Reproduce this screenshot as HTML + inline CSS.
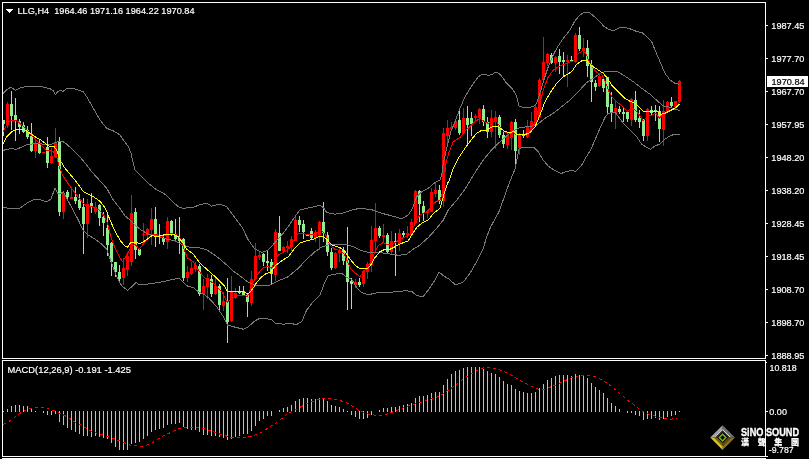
<!DOCTYPE html>
<html><head><meta charset="utf-8"><title>LLG,H4</title>
<style>html,body{margin:0;padding:0;background:#000;}body{width:809px;height:459px;overflow:hidden;}svg{display:block;}text{font-family:"Liberation Sans","Noto Sans CJK TC",sans-serif;}</style>
</head><body>
<svg width="809" height="459" viewBox="0 0 809 459">
<rect x="0" y="0" width="809" height="459" fill="#000"/>
<defs><clipPath id="cm"><rect x="3" y="3" width="762" height="355"/></clipPath><clipPath id="cd"><rect x="3" y="361" width="762" height="95"/></clipPath></defs>
<g clip-path="url(#cm)" shape-rendering="crispEdges">
<rect x="3" y="120" width="1" height="16" fill="#90ee90"/>
<rect x="2" y="120" width="3" height="4" fill="#90ee90"/>
<rect x="7" y="102" width="1" height="26" fill="#ff0000"/>
<rect x="6" y="104" width="3" height="21" fill="#ff0000"/>
<rect x="11" y="91" width="1" height="39" fill="#90ee90"/>
<rect x="10" y="104" width="3" height="12" fill="#90ee90"/>
<rect x="15" y="98" width="1" height="43" fill="#90ee90"/>
<rect x="14" y="115" width="3" height="5" fill="#90ee90"/>
<rect x="19" y="119" width="1" height="15" fill="#90ee90"/>
<rect x="18" y="121" width="3" height="6" fill="#90ee90"/>
<rect x="23" y="122" width="1" height="11" fill="#90ee90"/>
<rect x="22" y="125" width="3" height="7" fill="#90ee90"/>
<rect x="27" y="126" width="1" height="13" fill="#90ee90"/>
<rect x="26" y="130" width="3" height="7" fill="#90ee90"/>
<rect x="31" y="123" width="1" height="29" fill="#90ee90"/>
<rect x="30" y="136" width="3" height="15" fill="#90ee90"/>
<rect x="35" y="139" width="1" height="19" fill="#ff0000"/>
<rect x="34" y="144" width="3" height="7" fill="#ff0000"/>
<rect x="39" y="139" width="1" height="15" fill="#90ee90"/>
<rect x="38" y="144" width="3" height="9" fill="#90ee90"/>
<rect x="43" y="152" width="1" height="1" fill="#ff0000"/>
<rect x="42" y="152" width="3" height="1" fill="#ff0000"/>
<rect x="47" y="137" width="1" height="31" fill="#90ee90"/>
<rect x="46" y="147" width="3" height="16" fill="#90ee90"/>
<rect x="51" y="148" width="1" height="16" fill="#ff0000"/>
<rect x="50" y="156" width="3" height="7" fill="#ff0000"/>
<rect x="55" y="128" width="1" height="30" fill="#ff0000"/>
<rect x="54" y="142" width="3" height="15" fill="#ff0000"/>
<rect x="59" y="137" width="1" height="79" fill="#90ee90"/>
<rect x="58" y="142" width="3" height="70" fill="#90ee90"/>
<rect x="63" y="191" width="1" height="28" fill="#ff0000"/>
<rect x="62" y="193" width="3" height="19" fill="#ff0000"/>
<rect x="67" y="190" width="1" height="10" fill="#90ee90"/>
<rect x="66" y="192" width="3" height="5" fill="#90ee90"/>
<rect x="71" y="188" width="1" height="11" fill="#ff0000"/>
<rect x="70" y="197" width="3" height="2" fill="#ff0000"/>
<rect x="75" y="187" width="1" height="17" fill="#90ee90"/>
<rect x="74" y="197" width="3" height="4" fill="#90ee90"/>
<rect x="79" y="194" width="1" height="16" fill="#90ee90"/>
<rect x="78" y="200" width="3" height="8" fill="#90ee90"/>
<rect x="83" y="198" width="1" height="56" fill="#90ee90"/>
<rect x="82" y="207" width="3" height="17" fill="#90ee90"/>
<rect x="87" y="199" width="1" height="39" fill="#ff0000"/>
<rect x="86" y="204" width="3" height="20" fill="#ff0000"/>
<rect x="91" y="193" width="1" height="20" fill="#90ee90"/>
<rect x="90" y="203" width="3" height="4" fill="#90ee90"/>
<rect x="95" y="202" width="1" height="12" fill="#ff0000"/>
<rect x="94" y="207" width="3" height="5" fill="#ff0000"/>
<rect x="99" y="204" width="1" height="22" fill="#90ee90"/>
<rect x="98" y="205" width="3" height="13" fill="#90ee90"/>
<rect x="103" y="212" width="1" height="24" fill="#90ee90"/>
<rect x="102" y="217" width="3" height="6" fill="#90ee90"/>
<rect x="107" y="214" width="1" height="42" fill="#90ee90"/>
<rect x="106" y="228" width="3" height="17" fill="#90ee90"/>
<rect x="111" y="242" width="1" height="34" fill="#90ee90"/>
<rect x="110" y="243" width="3" height="19" fill="#90ee90"/>
<rect x="115" y="262" width="1" height="15" fill="#90ee90"/>
<rect x="114" y="262" width="3" height="10" fill="#90ee90"/>
<rect x="119" y="265" width="1" height="18" fill="#90ee90"/>
<rect x="118" y="272" width="3" height="7" fill="#90ee90"/>
<rect x="123" y="258" width="1" height="27" fill="#ff0000"/>
<rect x="122" y="268" width="3" height="10" fill="#ff0000"/>
<rect x="127" y="252" width="1" height="24" fill="#ff0000"/>
<rect x="126" y="256" width="3" height="14" fill="#ff0000"/>
<rect x="131" y="195" width="1" height="71" fill="#ff0000"/>
<rect x="130" y="213" width="3" height="49" fill="#ff0000"/>
<rect x="135" y="208" width="1" height="51" fill="#90ee90"/>
<rect x="134" y="212" width="3" height="38" fill="#90ee90"/>
<rect x="139" y="248" width="1" height="8" fill="#90ee90"/>
<rect x="138" y="249" width="3" height="6" fill="#90ee90"/>
<rect x="143" y="223" width="1" height="20" fill="#ff0000"/>
<rect x="142" y="234" width="3" height="1" fill="#ff0000"/>
<rect x="147" y="228" width="1" height="12" fill="#ff0000"/>
<rect x="146" y="229" width="3" height="6" fill="#ff0000"/>
<rect x="151" y="208" width="1" height="37" fill="#ff0000"/>
<rect x="150" y="219" width="3" height="11" fill="#ff0000"/>
<rect x="155" y="207" width="1" height="40" fill="#90ee90"/>
<rect x="154" y="219" width="3" height="16" fill="#90ee90"/>
<rect x="159" y="224" width="1" height="20" fill="#90ee90"/>
<rect x="158" y="235" width="3" height="2" fill="#90ee90"/>
<rect x="163" y="236" width="1" height="9" fill="#90ee90"/>
<rect x="162" y="238" width="3" height="4" fill="#90ee90"/>
<rect x="167" y="217" width="1" height="32" fill="#ff0000"/>
<rect x="166" y="221" width="3" height="21" fill="#ff0000"/>
<rect x="171" y="220" width="1" height="16" fill="#90ee90"/>
<rect x="170" y="221" width="3" height="13" fill="#90ee90"/>
<rect x="175" y="219" width="1" height="21" fill="#90ee90"/>
<rect x="174" y="235" width="3" height="4" fill="#90ee90"/>
<rect x="179" y="217" width="1" height="37" fill="#90ee90"/>
<rect x="178" y="238" width="3" height="3" fill="#90ee90"/>
<rect x="183" y="238" width="1" height="43" fill="#90ee90"/>
<rect x="182" y="239" width="3" height="39" fill="#90ee90"/>
<rect x="187" y="266" width="1" height="16" fill="#ff0000"/>
<rect x="186" y="272" width="3" height="6" fill="#ff0000"/>
<rect x="191" y="262" width="1" height="13" fill="#ff0000"/>
<rect x="190" y="268" width="3" height="6" fill="#ff0000"/>
<rect x="195" y="262" width="1" height="10" fill="#ff0000"/>
<rect x="194" y="265" width="3" height="4" fill="#ff0000"/>
<rect x="199" y="264" width="1" height="32" fill="#90ee90"/>
<rect x="198" y="266" width="3" height="28" fill="#90ee90"/>
<rect x="203" y="279" width="1" height="31" fill="#ff0000"/>
<rect x="202" y="286" width="3" height="8" fill="#ff0000"/>
<rect x="207" y="274" width="1" height="25" fill="#ff0000"/>
<rect x="206" y="278" width="3" height="9" fill="#ff0000"/>
<rect x="211" y="275" width="1" height="22" fill="#90ee90"/>
<rect x="210" y="279" width="3" height="15" fill="#90ee90"/>
<rect x="215" y="277" width="1" height="18" fill="#ff0000"/>
<rect x="214" y="286" width="3" height="8" fill="#ff0000"/>
<rect x="219" y="284" width="1" height="26" fill="#90ee90"/>
<rect x="218" y="286" width="3" height="19" fill="#90ee90"/>
<rect x="223" y="292" width="1" height="19" fill="#ff0000"/>
<rect x="222" y="301" width="3" height="5" fill="#ff0000"/>
<rect x="227" y="278" width="1" height="65" fill="#90ee90"/>
<rect x="226" y="302" width="3" height="20" fill="#90ee90"/>
<rect x="231" y="276" width="1" height="46" fill="#ff0000"/>
<rect x="230" y="292" width="3" height="29" fill="#ff0000"/>
<rect x="235" y="288" width="1" height="11" fill="#ff0000"/>
<rect x="234" y="293" width="3" height="5" fill="#ff0000"/>
<rect x="239" y="286" width="1" height="8" fill="#90ee90"/>
<rect x="238" y="291" width="3" height="2" fill="#90ee90"/>
<rect x="243" y="286" width="1" height="10" fill="#90ee90"/>
<rect x="242" y="291" width="3" height="4" fill="#90ee90"/>
<rect x="247" y="293" width="1" height="24" fill="#90ee90"/>
<rect x="246" y="295" width="3" height="7" fill="#90ee90"/>
<rect x="251" y="271" width="1" height="35" fill="#ff0000"/>
<rect x="250" y="279" width="3" height="24" fill="#ff0000"/>
<rect x="255" y="243" width="1" height="37" fill="#ff0000"/>
<rect x="254" y="256" width="3" height="23" fill="#ff0000"/>
<rect x="259" y="251" width="1" height="9" fill="#ff0000"/>
<rect x="258" y="255" width="3" height="2" fill="#ff0000"/>
<rect x="263" y="253" width="1" height="13" fill="#90ee90"/>
<rect x="262" y="254" width="3" height="8" fill="#90ee90"/>
<rect x="267" y="250" width="1" height="21" fill="#90ee90"/>
<rect x="266" y="261" width="3" height="2" fill="#90ee90"/>
<rect x="271" y="259" width="1" height="26" fill="#90ee90"/>
<rect x="270" y="262" width="3" height="12" fill="#90ee90"/>
<rect x="275" y="229" width="1" height="52" fill="#ff0000"/>
<rect x="274" y="232" width="3" height="43" fill="#ff0000"/>
<rect x="279" y="216" width="1" height="35" fill="#90ee90"/>
<rect x="278" y="233" width="3" height="18" fill="#90ee90"/>
<rect x="283" y="246" width="1" height="6" fill="#ff0000"/>
<rect x="282" y="247" width="3" height="4" fill="#ff0000"/>
<rect x="287" y="241" width="1" height="12" fill="#ff0000"/>
<rect x="286" y="246" width="3" height="2" fill="#ff0000"/>
<rect x="291" y="236" width="1" height="15" fill="#ff0000"/>
<rect x="290" y="239" width="3" height="8" fill="#ff0000"/>
<rect x="295" y="216" width="1" height="25" fill="#ff0000"/>
<rect x="294" y="220" width="3" height="21" fill="#ff0000"/>
<rect x="299" y="216" width="1" height="16" fill="#90ee90"/>
<rect x="298" y="220" width="3" height="5" fill="#90ee90"/>
<rect x="303" y="220" width="1" height="19" fill="#90ee90"/>
<rect x="302" y="224" width="3" height="8" fill="#90ee90"/>
<rect x="307" y="234" width="1" height="2" fill="#90ee90"/>
<rect x="306" y="234" width="3" height="2" fill="#90ee90"/>
<rect x="311" y="228" width="1" height="11" fill="#90ee90"/>
<rect x="310" y="231" width="3" height="7" fill="#90ee90"/>
<rect x="315" y="230" width="1" height="12" fill="#ff0000"/>
<rect x="314" y="232" width="3" height="6" fill="#ff0000"/>
<rect x="319" y="221" width="1" height="29" fill="#ff0000"/>
<rect x="318" y="222" width="3" height="13" fill="#ff0000"/>
<rect x="323" y="202" width="1" height="40" fill="#90ee90"/>
<rect x="322" y="222" width="3" height="11" fill="#90ee90"/>
<rect x="327" y="232" width="1" height="24" fill="#90ee90"/>
<rect x="326" y="235" width="3" height="17" fill="#90ee90"/>
<rect x="331" y="248" width="1" height="22" fill="#90ee90"/>
<rect x="330" y="252" width="3" height="16" fill="#90ee90"/>
<rect x="335" y="252" width="1" height="17" fill="#ff0000"/>
<rect x="334" y="253" width="3" height="15" fill="#ff0000"/>
<rect x="339" y="248" width="1" height="14" fill="#ff0000"/>
<rect x="338" y="250" width="3" height="3" fill="#ff0000"/>
<rect x="343" y="247" width="1" height="18" fill="#90ee90"/>
<rect x="342" y="250" width="3" height="11" fill="#90ee90"/>
<rect x="347" y="227" width="1" height="83" fill="#90ee90"/>
<rect x="346" y="260" width="3" height="22" fill="#90ee90"/>
<rect x="351" y="278" width="1" height="31" fill="#90ee90"/>
<rect x="350" y="281" width="3" height="3" fill="#90ee90"/>
<rect x="355" y="279" width="1" height="9" fill="#ff0000"/>
<rect x="354" y="282" width="3" height="3" fill="#ff0000"/>
<rect x="359" y="278" width="1" height="9" fill="#90ee90"/>
<rect x="358" y="282" width="3" height="3" fill="#90ee90"/>
<rect x="363" y="270" width="1" height="17" fill="#ff0000"/>
<rect x="362" y="271" width="3" height="13" fill="#ff0000"/>
<rect x="367" y="262" width="1" height="17" fill="#ff0000"/>
<rect x="366" y="264" width="3" height="8" fill="#ff0000"/>
<rect x="371" y="226" width="1" height="46" fill="#ff0000"/>
<rect x="370" y="240" width="3" height="25" fill="#ff0000"/>
<rect x="375" y="203" width="1" height="49" fill="#ff0000"/>
<rect x="374" y="228" width="3" height="13" fill="#ff0000"/>
<rect x="379" y="226" width="1" height="12" fill="#90ee90"/>
<rect x="378" y="228" width="3" height="8" fill="#90ee90"/>
<rect x="383" y="224" width="1" height="19" fill="#ff0000"/>
<rect x="382" y="235" width="3" height="2" fill="#ff0000"/>
<rect x="387" y="233" width="1" height="20" fill="#90ee90"/>
<rect x="386" y="235" width="3" height="17" fill="#90ee90"/>
<rect x="391" y="231" width="1" height="23" fill="#ff0000"/>
<rect x="390" y="241" width="3" height="11" fill="#ff0000"/>
<rect x="395" y="233" width="1" height="43" fill="#90ee90"/>
<rect x="394" y="241" width="3" height="1" fill="#90ee90"/>
<rect x="399" y="229" width="1" height="22" fill="#ff0000"/>
<rect x="398" y="233" width="3" height="11" fill="#ff0000"/>
<rect x="403" y="231" width="1" height="6" fill="#90ee90"/>
<rect x="402" y="233" width="3" height="2" fill="#90ee90"/>
<rect x="407" y="226" width="1" height="12" fill="#ff0000"/>
<rect x="406" y="233" width="3" height="2" fill="#ff0000"/>
<rect x="411" y="219" width="1" height="16" fill="#ff0000"/>
<rect x="410" y="222" width="3" height="13" fill="#ff0000"/>
<rect x="415" y="190" width="1" height="34" fill="#ff0000"/>
<rect x="414" y="191" width="3" height="32" fill="#ff0000"/>
<rect x="419" y="190" width="1" height="32" fill="#90ee90"/>
<rect x="418" y="191" width="3" height="13" fill="#90ee90"/>
<rect x="423" y="201" width="1" height="20" fill="#90ee90"/>
<rect x="422" y="206" width="3" height="7" fill="#90ee90"/>
<rect x="427" y="210" width="1" height="8" fill="#ff0000"/>
<rect x="426" y="211" width="3" height="2" fill="#ff0000"/>
<rect x="431" y="188" width="1" height="24" fill="#ff0000"/>
<rect x="430" y="192" width="3" height="20" fill="#ff0000"/>
<rect x="435" y="182" width="1" height="15" fill="#ff0000"/>
<rect x="434" y="190" width="3" height="4" fill="#ff0000"/>
<rect x="439" y="185" width="1" height="19" fill="#90ee90"/>
<rect x="438" y="190" width="3" height="11" fill="#90ee90"/>
<rect x="443" y="128" width="1" height="79" fill="#ff0000"/>
<rect x="442" y="133" width="3" height="68" fill="#ff0000"/>
<rect x="447" y="120" width="1" height="23" fill="#ff0000"/>
<rect x="446" y="128" width="3" height="8" fill="#ff0000"/>
<rect x="451" y="122" width="1" height="9" fill="#ff0000"/>
<rect x="450" y="127" width="3" height="2" fill="#ff0000"/>
<rect x="455" y="119" width="1" height="11" fill="#ff0000"/>
<rect x="454" y="121" width="3" height="7" fill="#ff0000"/>
<rect x="459" y="111" width="1" height="24" fill="#90ee90"/>
<rect x="458" y="120" width="3" height="13" fill="#90ee90"/>
<rect x="463" y="108" width="1" height="26" fill="#ff0000"/>
<rect x="462" y="118" width="3" height="15" fill="#ff0000"/>
<rect x="467" y="106" width="1" height="38" fill="#90ee90"/>
<rect x="466" y="118" width="3" height="7" fill="#90ee90"/>
<rect x="471" y="112" width="1" height="24" fill="#90ee90"/>
<rect x="470" y="118" width="3" height="6" fill="#90ee90"/>
<rect x="475" y="114" width="1" height="7" fill="#ff0000"/>
<rect x="474" y="116" width="3" height="2" fill="#ff0000"/>
<rect x="479" y="108" width="1" height="16" fill="#ff0000"/>
<rect x="478" y="109" width="3" height="9" fill="#ff0000"/>
<rect x="483" y="105" width="1" height="21" fill="#90ee90"/>
<rect x="482" y="109" width="3" height="13" fill="#90ee90"/>
<rect x="487" y="117" width="1" height="21" fill="#90ee90"/>
<rect x="486" y="122" width="3" height="10" fill="#90ee90"/>
<rect x="491" y="110" width="1" height="27" fill="#ff0000"/>
<rect x="490" y="118" width="3" height="14" fill="#ff0000"/>
<rect x="495" y="111" width="1" height="38" fill="#ff0000"/>
<rect x="494" y="117" width="3" height="4" fill="#ff0000"/>
<rect x="499" y="115" width="1" height="23" fill="#90ee90"/>
<rect x="498" y="117" width="3" height="18" fill="#90ee90"/>
<rect x="503" y="132" width="1" height="16" fill="#90ee90"/>
<rect x="502" y="135" width="3" height="9" fill="#90ee90"/>
<rect x="507" y="132" width="1" height="17" fill="#ff0000"/>
<rect x="506" y="135" width="3" height="10" fill="#ff0000"/>
<rect x="511" y="121" width="1" height="29" fill="#ff0000"/>
<rect x="510" y="122" width="3" height="16" fill="#ff0000"/>
<rect x="515" y="119" width="1" height="47" fill="#90ee90"/>
<rect x="514" y="122" width="3" height="29" fill="#90ee90"/>
<rect x="519" y="133" width="1" height="22" fill="#ff0000"/>
<rect x="518" y="135" width="3" height="13" fill="#ff0000"/>
<rect x="523" y="130" width="1" height="8" fill="#90ee90"/>
<rect x="522" y="134" width="3" height="2" fill="#90ee90"/>
<rect x="527" y="120" width="1" height="18" fill="#ff0000"/>
<rect x="526" y="127" width="3" height="10" fill="#ff0000"/>
<rect x="531" y="112" width="1" height="19" fill="#ff0000"/>
<rect x="530" y="121" width="3" height="9" fill="#ff0000"/>
<rect x="535" y="105" width="1" height="21" fill="#ff0000"/>
<rect x="534" y="107" width="3" height="18" fill="#ff0000"/>
<rect x="539" y="78" width="1" height="40" fill="#ff0000"/>
<rect x="538" y="80" width="3" height="37" fill="#ff0000"/>
<rect x="543" y="37" width="1" height="44" fill="#ff0000"/>
<rect x="542" y="62" width="3" height="18" fill="#ff0000"/>
<rect x="547" y="53" width="1" height="13" fill="#ff0000"/>
<rect x="546" y="54" width="3" height="9" fill="#ff0000"/>
<rect x="551" y="53" width="1" height="11" fill="#90ee90"/>
<rect x="550" y="55" width="3" height="8" fill="#90ee90"/>
<rect x="555" y="56" width="1" height="16" fill="#ff0000"/>
<rect x="554" y="57" width="3" height="6" fill="#ff0000"/>
<rect x="559" y="49" width="1" height="25" fill="#90ee90"/>
<rect x="558" y="56" width="3" height="6" fill="#90ee90"/>
<rect x="563" y="52" width="1" height="24" fill="#90ee90"/>
<rect x="562" y="60" width="3" height="2" fill="#90ee90"/>
<rect x="567" y="55" width="1" height="32" fill="#ff0000"/>
<rect x="566" y="60" width="3" height="2" fill="#ff0000"/>
<rect x="571" y="56" width="1" height="6" fill="#90ee90"/>
<rect x="570" y="60" width="3" height="2" fill="#90ee90"/>
<rect x="575" y="33" width="1" height="30" fill="#ff0000"/>
<rect x="574" y="35" width="3" height="27" fill="#ff0000"/>
<rect x="579" y="27" width="1" height="24" fill="#90ee90"/>
<rect x="578" y="35" width="3" height="14" fill="#90ee90"/>
<rect x="583" y="38" width="1" height="19" fill="#ff0000"/>
<rect x="582" y="48" width="3" height="3" fill="#ff0000"/>
<rect x="587" y="40" width="1" height="37" fill="#90ee90"/>
<rect x="586" y="48" width="3" height="18" fill="#90ee90"/>
<rect x="591" y="60" width="1" height="42" fill="#90ee90"/>
<rect x="590" y="65" width="3" height="17" fill="#90ee90"/>
<rect x="595" y="80" width="1" height="11" fill="#90ee90"/>
<rect x="594" y="83" width="3" height="4" fill="#90ee90"/>
<rect x="599" y="73" width="1" height="14" fill="#ff0000"/>
<rect x="598" y="76" width="3" height="10" fill="#ff0000"/>
<rect x="603" y="77" width="1" height="15" fill="#90ee90"/>
<rect x="602" y="79" width="3" height="9" fill="#90ee90"/>
<rect x="607" y="77" width="1" height="37" fill="#90ee90"/>
<rect x="606" y="77" width="3" height="30" fill="#90ee90"/>
<rect x="611" y="92" width="1" height="30" fill="#90ee90"/>
<rect x="610" y="104" width="3" height="8" fill="#90ee90"/>
<rect x="615" y="100" width="1" height="29" fill="#ff0000"/>
<rect x="614" y="108" width="3" height="5" fill="#ff0000"/>
<rect x="619" y="106" width="1" height="8" fill="#90ee90"/>
<rect x="618" y="109" width="3" height="3" fill="#90ee90"/>
<rect x="623" y="108" width="1" height="14" fill="#90ee90"/>
<rect x="622" y="112" width="3" height="2" fill="#90ee90"/>
<rect x="627" y="112" width="1" height="10" fill="#90ee90"/>
<rect x="626" y="112" width="3" height="7" fill="#90ee90"/>
<rect x="631" y="98" width="1" height="28" fill="#ff0000"/>
<rect x="630" y="99" width="3" height="21" fill="#ff0000"/>
<rect x="635" y="91" width="1" height="31" fill="#90ee90"/>
<rect x="634" y="100" width="3" height="20" fill="#90ee90"/>
<rect x="639" y="110" width="1" height="18" fill="#90ee90"/>
<rect x="638" y="118" width="3" height="4" fill="#90ee90"/>
<rect x="643" y="119" width="1" height="22" fill="#90ee90"/>
<rect x="642" y="120" width="3" height="16" fill="#90ee90"/>
<rect x="647" y="108" width="1" height="33" fill="#ff0000"/>
<rect x="646" y="109" width="3" height="27" fill="#ff0000"/>
<rect x="651" y="106" width="1" height="9" fill="#90ee90"/>
<rect x="650" y="110" width="3" height="3" fill="#90ee90"/>
<rect x="655" y="105" width="1" height="16" fill="#90ee90"/>
<rect x="654" y="110" width="3" height="2" fill="#90ee90"/>
<rect x="659" y="106" width="1" height="36" fill="#90ee90"/>
<rect x="658" y="111" width="3" height="18" fill="#90ee90"/>
<rect x="663" y="100" width="1" height="46" fill="#ff0000"/>
<rect x="662" y="111" width="3" height="19" fill="#ff0000"/>
<rect x="667" y="101" width="1" height="11" fill="#ff0000"/>
<rect x="666" y="102" width="3" height="10" fill="#ff0000"/>
<rect x="671" y="97" width="1" height="11" fill="#90ee90"/>
<rect x="670" y="102" width="3" height="4" fill="#90ee90"/>
<rect x="675" y="101" width="1" height="9" fill="#ff0000"/>
<rect x="674" y="101" width="3" height="6" fill="#ff0000"/>
<rect x="679" y="80" width="1" height="23" fill="#ff0000"/>
<rect x="678" y="81" width="3" height="21" fill="#ff0000"/>
</g>
<g clip-path="url(#cm)" fill="none" stroke-linejoin="round" stroke-linecap="round" shape-rendering="crispEdges">
<path d="M3.3 93.3 L7.5 89.2 L10.8 87.2 L15.3 90.3 L20.0 88.0 L25.0 86.7 L33.3 86.2 L41.7 86.7 L50.0 88.7 L53.3 90.8 L55.5 94.7 L57.5 92.0 L60.0 90.5 L63.3 91.3 L66.7 88.7 L71.7 88.0 L76.7 89.7 L83.3 91.7 L86.7 96.7 L93.3 108.3 L100.0 120.0 L106.7 128.3 L113.3 130.8 L120.0 135.0 L123.3 140.0 L128.3 146.7 L131.0 153.0 L132.5 160.0 L135.0 170.0 L140.0 175.0 L148.3 183.3 L156.7 190.0 L165.0 194.2 L171.7 200.8 L178.3 206.7 L183.3 208.3 L193.3 207.2 L200.0 204.7 L206.7 203.3 L211.7 206.2 L219.2 204.2 L226.7 206.7 L231.7 213.3 L235.0 218.0 L241.7 226.7 L248.3 240.0 L255.0 249.2 L261.7 252.5 L268.3 250.0 L275.0 242.5 L281.7 235.0 L288.3 226.7 L295.0 216.7 L300.0 210.0 L306.7 208.3 L315.0 206.7 L320.0 205.0 L323.3 207.5 L326.7 212.5 L335.0 214.2 L343.3 213.0 L351.7 210.0 L360.0 208.3 L371.7 209.7 L381.7 213.3 L391.7 215.8 L401.7 218.7 L408.3 215.0 L412.5 208.3 L416.7 196.7 L421.7 191.7 L428.3 188.3 L435.0 182.5 L440.0 180.0 L441.7 175.0 L443.3 163.3 L446.7 148.3 L450.8 131.7 L455.0 121.7 L460.0 108.3 L465.0 96.7 L471.7 85.8 L478.3 76.7 L482.5 74.2 L488.3 75.3 L491.7 74.7 L495.8 72.0 L500.0 74.2 L506.7 83.3 L513.3 90.0 L516.7 96.7 L519.2 106.7 L526.7 107.5 L533.3 106.7 L536.7 103.3 L540.0 93.3 L543.3 81.7 L548.3 66.7 L553.3 55.0 L556.7 48.3 L563.3 38.3 L570.0 30.0 L575.0 20.8 L580.0 15.0 L584.2 12.2 L589.2 12.2 L593.3 15.8 L598.3 20.0 L603.3 25.8 L608.3 29.2 L613.3 30.8 L618.3 28.3 L623.3 27.0 L630.0 28.8 L636.7 31.5 L642.5 33.0 L646.7 36.7 L651.7 41.7 L655.0 50.0 L660.0 61.7 L665.0 73.3 L670.0 80.0 L675.0 83.3 L678.3 84.2" stroke="#787878" stroke-width="1"/>
<path d="M3.3 150.3 L10.0 148.7 L16.7 149.2 L21.7 147.0 L28.3 144.2 L38.3 143.7 L50.0 144.7 L56.7 142.0 L62.5 141.3 L66.7 144.2 L75.0 151.7 L83.3 160.8 L91.7 171.7 L100.0 180.8 L106.7 188.3 L113.3 200.0 L120.0 208.5 L125.0 215.8 L130.0 220.0 L134.0 224.0 L140.0 229.2 L148.3 234.2 L156.7 235.8 L166.7 239.2 L175.0 240.8 L183.3 245.0 L190.0 247.2 L200.0 248.0 L206.7 249.7 L213.3 254.2 L220.0 259.2 L226.7 265.0 L231.7 270.0 L240.0 275.8 L248.3 282.5 L256.7 285.8 L270.0 285.0 L278.3 280.8 L288.3 276.7 L298.3 268.3 L306.7 259.2 L315.0 251.7 L321.7 247.0 L328.3 245.0 L338.3 244.2 L348.3 245.0 L353.3 246.7 L360.0 250.0 L368.3 252.5 L378.3 252.5 L388.3 253.7 L398.3 255.3 L406.7 254.2 L413.3 249.2 L420.0 245.0 L428.3 237.5 L436.7 228.3 L443.3 220.0 L448.3 210.0 L458.3 198.3 L466.7 186.7 L470.0 180.8 L476.7 170.0 L483.3 160.0 L490.0 151.7 L498.3 143.3 L506.7 135.8 L513.3 130.8 L520.0 127.5 L528.3 126.7 L536.7 125.0 L545.0 118.3 L553.3 113.3 L561.7 106.7 L570.0 100.0 L578.3 91.7 L586.7 82.5 L593.3 78.3 L600.0 73.3 L606.7 71.3 L616.7 71.3 L623.3 75.0 L633.3 81.7 L641.7 88.3 L650.0 94.2 L658.3 101.7 L663.3 105.8 L670.0 107.2 L675.0 109.2 L679.2 110.3" stroke="#787878" stroke-width="1"/>
<path d="M3.3 207.0 L10.0 208.8 L20.0 208.0 L26.7 203.3 L33.3 199.7 L40.0 199.7 L46.7 201.7 L50.8 199.2 L55.0 188.3 L57.5 193.0 L60.0 194.0 L63.3 191.7 L66.7 198.3 L71.7 207.5 L78.3 220.0 L83.3 230.8 L88.3 235.0 L95.0 239.2 L101.7 244.2 L106.7 249.0 L111.7 263.3 L116.7 276.7 L121.7 285.8 L127.5 290.3 L131.7 286.7 L135.8 282.5 L140.0 285.0 L150.0 283.7 L163.3 281.7 L173.3 279.2 L179.2 278.3 L181.7 280.8 L186.7 285.8 L193.3 287.5 L198.3 291.7 L205.0 295.0 L208.3 297.5 L216.7 306.7 L223.3 316.7 L227.5 325.0 L233.3 326.7 L243.3 329.2 L248.3 326.7 L255.0 320.8 L260.0 318.3 L266.7 318.7 L271.7 320.0 L275.0 323.0 L283.3 324.2 L291.7 323.3 L295.8 325.0 L301.7 321.7 L306.7 310.0 L313.3 301.7 L320.0 295.0 L325.0 281.7 L328.3 275.8 L334.0 274.2 L341.7 273.3 L346.7 277.5 L351.7 279.2 L356.7 287.5 L361.7 292.5 L368.3 294.7 L378.3 292.5 L393.3 292.0 L405.0 290.8 L411.7 291.3 L416.7 295.8 L423.3 296.3 L428.3 290.0 L435.0 280.0 L439.2 272.0 L443.3 275.8 L449.2 279.2 L455.5 285.0 L463.3 282.0 L470.0 273.3 L476.7 261.7 L483.3 248.3 L486.7 236.7 L490.8 226.7 L495.0 219.0 L499.1 211.4 L504.4 196.7 L509.6 182.0 L514.9 169.4 L517.0 158.9 L519.1 148.8 L522.2 147.4 L533.8 147.4 L538.0 151.6 L543.2 160.0 L548.5 166.3 L554.8 170.5 L561.1 173.6 L566.3 171.5 L571.6 170.5 L575.8 171.5 L581.0 166.3 L586.3 156.8 L590.5 150.3 L595.0 140.0 L600.0 128.3 L605.0 117.5 L608.3 113.3 L615.0 112.0 L618.3 116.7 L623.3 123.3 L630.0 130.0 L636.7 136.7 L641.7 144.2 L646.7 147.5 L650.8 149.2 L655.0 145.8 L660.0 144.2 L665.0 139.2 L670.0 135.8 L675.0 134.2 L679.2 134.2" stroke="#787878" stroke-width="1"/>
</g>
<g clip-path="url(#cm)" fill="none" stroke-linejoin="round" stroke-linecap="round" shape-rendering="crispEdges">
<path d="M3.3 131.7 L6.7 125.0 L10.0 120.8 L15.0 120.0 L18.3 121.7 L21.7 125.0 L26.7 130.0 L31.7 135.8 L36.7 140.8 L41.7 145.8 L46.7 150.8 L50.0 150.5 L53.3 151.7 L56.7 156.7 L59.2 166.7 L62.5 175.0 L66.7 181.7 L71.7 188.3 L76.7 195.0 L81.7 201.5 L85.0 205.0 L90.0 206.3 L95.0 207.5 L100.0 210.8 L104.2 215.8 L107.5 223.3 L110.8 236.7 L115.0 248.3 L119.2 256.7 L122.5 261.7 L126.7 255.0 L130.8 247.5 L135.0 244.2 L139.2 249.2 L143.3 244.2 L147.5 238.3 L151.7 234.2 L157.5 235.0 L161.7 237.5 L165.8 235.0 L171.7 233.7 L176.7 235.0 L180.8 239.2 L184.2 250.0 L187.5 258.3 L193.3 261.7 L198.3 270.0 L203.3 276.7 L208.3 280.0 L213.3 283.0 L216.7 286.7 L221.7 291.7 L227.5 302.5 L231.7 299.0 L236.7 295.8 L243.3 295.0 L247.5 296.7 L250.8 288.3 L255.0 278.3 L258.3 273.3 L263.3 267.5 L268.3 266.7 L271.7 268.3 L275.0 260.0 L278.3 255.0 L285.0 251.7 L290.0 247.5 L293.3 240.8 L297.5 234.2 L301.7 233.0 L308.3 235.0 L313.3 234.2 L318.3 231.7 L321.7 230.8 L325.8 235.0 L330.0 245.0 L335.0 249.5 L340.0 250.3 L344.2 254.2 L348.3 263.3 L351.7 270.0 L356.7 274.2 L360.0 276.7 L364.2 270.8 L368.3 266.7 L371.7 260.0 L375.0 251.7 L378.3 245.5 L383.3 242.5 L388.3 245.0 L395.0 242.5 L401.7 238.3 L408.3 235.8 L411.7 231.7 L415.0 223.3 L420.0 215.0 L425.0 212.5 L428.3 210.8 L431.7 205.0 L435.8 201.7 L440.0 200.0 L443.3 190.0 L445.8 163.3 L449.2 151.7 L453.3 141.7 L460.0 137.5 L465.0 130.8 L470.0 126.7 L475.0 121.7 L480.0 118.3 L484.2 121.7 L488.3 123.3 L492.5 121.7 L496.7 121.7 L500.0 126.7 L504.2 131.7 L507.5 133.3 L511.7 131.7 L515.8 134.2 L520.0 135.0 L525.0 134.2 L529.2 131.7 L533.3 126.5 L536.7 116.7 L540.0 103.3 L543.3 90.0 L547.5 78.3 L553.3 70.0 L560.0 65.8 L566.7 63.3 L573.3 60.8 L577.5 54.2 L582.5 50.8 L585.8 53.3 L589.2 61.7 L593.3 68.3 L596.7 72.5 L601.7 74.2 L605.0 80.8 L608.3 90.0 L611.7 96.7 L616.7 101.7 L623.3 107.0 L627.5 111.7 L631.7 107.5 L635.8 110.8 L640.0 115.8 L643.3 120.8 L647.5 116.7 L651.7 115.0 L655.8 113.3 L659.2 118.3 L663.3 114.2 L668.3 110.8 L673.3 109.2 L676.7 106.7 L680.0 101.7" stroke="#ff0000" stroke-width="1"/>
<path d="M3.3 143.3 L6.7 136.7 L11.7 131.7 L16.7 129.5 L21.7 129.2 L25.0 130.0 L30.0 133.3 L35.0 136.7 L40.0 139.5 L45.0 143.0 L49.2 146.3 L54.2 146.7 L56.7 150.0 L60.0 160.0 L65.0 168.3 L70.0 174.2 L75.0 180.0 L80.0 186.7 L83.3 191.7 L88.3 194.2 L93.3 196.7 L98.3 200.0 L101.7 203.3 L105.8 209.2 L110.0 220.0 L115.0 231.0 L120.0 240.0 L124.2 245.5 L127.5 247.2 L130.8 242.3 L135.0 242.0 L140.0 243.7 L145.0 240.8 L151.7 235.8 L158.3 236.3 L166.7 234.2 L173.3 234.2 L178.3 236.7 L182.5 242.5 L186.7 249.2 L193.3 254.2 L200.0 263.3 L206.7 269.2 L213.3 275.0 L220.0 281.7 L224.2 285.8 L227.5 291.5 L243.3 291.7 L248.3 294.0 L252.5 289.0 L256.7 282.5 L261.7 276.7 L266.7 273.3 L270.8 272.5 L275.0 265.8 L281.7 260.8 L288.3 256.7 L293.3 250.0 L300.0 243.0 L306.7 240.8 L313.3 239.2 L318.3 236.7 L323.3 236.3 L327.5 240.0 L331.7 245.0 L340.0 247.5 L345.0 251.3 L350.0 259.0 L355.0 265.0 L359.2 268.3 L367.5 268.3 L370.8 265.0 L375.0 257.5 L380.0 251.7 L385.0 249.2 L390.0 249.2 L395.0 246.7 L401.7 243.3 L408.3 240.8 L411.7 235.0 L416.7 227.5 L421.7 223.3 L428.3 220.0 L433.3 213.3 L440.0 208.3 L443.3 196.7 L447.5 183.3 L449.2 180.8 L453.3 168.3 L458.3 158.3 L465.0 148.3 L471.7 139.2 L476.7 133.3 L481.7 130.3 L486.7 130.3 L491.7 127.0 L496.7 126.3 L500.8 128.3 L505.0 131.7 L509.2 132.5 L513.3 131.7 L516.7 134.2 L525.0 134.7 L530.0 132.5 L535.0 127.0 L540.0 115.0 L545.0 101.7 L550.8 91.7 L556.7 83.3 L563.3 76.7 L571.7 71.7 L576.7 64.2 L582.5 60.3 L586.7 60.8 L591.7 65.8 L598.3 70.0 L603.3 73.3 L607.5 78.3 L611.7 85.0 L618.3 91.7 L625.0 98.3 L630.0 101.3 L635.0 103.3 L640.0 108.3 L644.2 111.8 L656.7 111.0 L660.8 114.2 L665.0 113.3 L670.0 110.8 L675.0 108.3 L679.2 104.2" stroke="#ffff00" stroke-width="1"/>
</g>
<g clip-path="url(#cd)" shape-rendering="crispEdges">
<rect x="3" y="411" width="1" height="1" fill="#c0c0c0"/>
<rect x="7" y="409" width="1" height="3" fill="#c0c0c0"/>
<rect x="11" y="406" width="1" height="6" fill="#c0c0c0"/>
<rect x="15" y="405" width="1" height="7" fill="#c0c0c0"/>
<rect x="19" y="405" width="1" height="7" fill="#c0c0c0"/>
<rect x="23" y="406" width="1" height="6" fill="#c0c0c0"/>
<rect x="27" y="406" width="1" height="6" fill="#c0c0c0"/>
<rect x="31" y="409" width="1" height="3" fill="#c0c0c0"/>
<rect x="35" y="411" width="1" height="1" fill="#c0c0c0"/>
<rect x="43" y="411" width="1" height="2" fill="#c0c0c0"/>
<rect x="47" y="411" width="1" height="4" fill="#c0c0c0"/>
<rect x="51" y="411" width="1" height="4" fill="#c0c0c0"/>
<rect x="55" y="411" width="1" height="3" fill="#c0c0c0"/>
<rect x="59" y="411" width="1" height="11" fill="#c0c0c0"/>
<rect x="63" y="411" width="1" height="14" fill="#c0c0c0"/>
<rect x="67" y="411" width="1" height="17" fill="#c0c0c0"/>
<rect x="71" y="411" width="1" height="19" fill="#c0c0c0"/>
<rect x="75" y="411" width="1" height="21" fill="#c0c0c0"/>
<rect x="79" y="411" width="1" height="23" fill="#c0c0c0"/>
<rect x="83" y="411" width="1" height="25" fill="#c0c0c0"/>
<rect x="87" y="411" width="1" height="25" fill="#c0c0c0"/>
<rect x="91" y="411" width="1" height="26" fill="#c0c0c0"/>
<rect x="95" y="411" width="1" height="25" fill="#c0c0c0"/>
<rect x="99" y="411" width="1" height="26" fill="#c0c0c0"/>
<rect x="103" y="411" width="1" height="27" fill="#c0c0c0"/>
<rect x="107" y="411" width="1" height="28" fill="#c0c0c0"/>
<rect x="111" y="411" width="1" height="32" fill="#c0c0c0"/>
<rect x="115" y="411" width="1" height="36" fill="#c0c0c0"/>
<rect x="119" y="411" width="1" height="39" fill="#c0c0c0"/>
<rect x="123" y="411" width="1" height="39" fill="#c0c0c0"/>
<rect x="127" y="411" width="1" height="39" fill="#c0c0c0"/>
<rect x="131" y="411" width="1" height="33" fill="#c0c0c0"/>
<rect x="135" y="411" width="1" height="32" fill="#c0c0c0"/>
<rect x="139" y="411" width="1" height="31" fill="#c0c0c0"/>
<rect x="143" y="411" width="1" height="28" fill="#c0c0c0"/>
<rect x="147" y="411" width="1" height="25" fill="#c0c0c0"/>
<rect x="151" y="411" width="1" height="21" fill="#c0c0c0"/>
<rect x="155" y="411" width="1" height="19" fill="#c0c0c0"/>
<rect x="159" y="411" width="1" height="18" fill="#c0c0c0"/>
<rect x="163" y="411" width="1" height="17" fill="#c0c0c0"/>
<rect x="167" y="411" width="1" height="14" fill="#c0c0c0"/>
<rect x="171" y="411" width="1" height="13" fill="#c0c0c0"/>
<rect x="175" y="411" width="1" height="13" fill="#c0c0c0"/>
<rect x="179" y="411" width="1" height="12" fill="#c0c0c0"/>
<rect x="183" y="411" width="1" height="16" fill="#c0c0c0"/>
<rect x="187" y="411" width="1" height="18" fill="#c0c0c0"/>
<rect x="191" y="411" width="1" height="19" fill="#c0c0c0"/>
<rect x="195" y="411" width="1" height="19" fill="#c0c0c0"/>
<rect x="199" y="411" width="1" height="21" fill="#c0c0c0"/>
<rect x="203" y="411" width="1" height="24" fill="#c0c0c0"/>
<rect x="207" y="411" width="1" height="24" fill="#c0c0c0"/>
<rect x="211" y="411" width="1" height="25" fill="#c0c0c0"/>
<rect x="215" y="411" width="1" height="25" fill="#c0c0c0"/>
<rect x="219" y="411" width="1" height="26" fill="#c0c0c0"/>
<rect x="223" y="411" width="1" height="27" fill="#c0c0c0"/>
<rect x="227" y="411" width="1" height="29" fill="#c0c0c0"/>
<rect x="231" y="411" width="1" height="28" fill="#c0c0c0"/>
<rect x="235" y="411" width="1" height="26" fill="#c0c0c0"/>
<rect x="239" y="411" width="1" height="25" fill="#c0c0c0"/>
<rect x="243" y="411" width="1" height="23" fill="#c0c0c0"/>
<rect x="247" y="411" width="1" height="23" fill="#c0c0c0"/>
<rect x="251" y="411" width="1" height="20" fill="#c0c0c0"/>
<rect x="255" y="411" width="1" height="15" fill="#c0c0c0"/>
<rect x="259" y="411" width="1" height="10" fill="#c0c0c0"/>
<rect x="263" y="411" width="1" height="8" fill="#c0c0c0"/>
<rect x="267" y="411" width="1" height="5" fill="#c0c0c0"/>
<rect x="271" y="411" width="1" height="5" fill="#c0c0c0"/>
<rect x="279" y="410" width="1" height="2" fill="#c0c0c0"/>
<rect x="283" y="408" width="1" height="4" fill="#c0c0c0"/>
<rect x="287" y="407" width="1" height="5" fill="#c0c0c0"/>
<rect x="291" y="405" width="1" height="7" fill="#c0c0c0"/>
<rect x="295" y="401" width="1" height="11" fill="#c0c0c0"/>
<rect x="299" y="399" width="1" height="13" fill="#c0c0c0"/>
<rect x="303" y="398" width="1" height="14" fill="#c0c0c0"/>
<rect x="307" y="398" width="1" height="14" fill="#c0c0c0"/>
<rect x="311" y="399" width="1" height="13" fill="#c0c0c0"/>
<rect x="315" y="399" width="1" height="13" fill="#c0c0c0"/>
<rect x="319" y="398" width="1" height="14" fill="#c0c0c0"/>
<rect x="323" y="399" width="1" height="13" fill="#c0c0c0"/>
<rect x="327" y="401" width="1" height="11" fill="#c0c0c0"/>
<rect x="331" y="405" width="1" height="7" fill="#c0c0c0"/>
<rect x="335" y="406" width="1" height="6" fill="#c0c0c0"/>
<rect x="339" y="407" width="1" height="5" fill="#c0c0c0"/>
<rect x="343" y="409" width="1" height="3" fill="#c0c0c0"/>
<rect x="347" y="411" width="1" height="1" fill="#c0c0c0"/>
<rect x="351" y="411" width="1" height="4" fill="#c0c0c0"/>
<rect x="355" y="411" width="1" height="6" fill="#c0c0c0"/>
<rect x="359" y="411" width="1" height="8" fill="#c0c0c0"/>
<rect x="363" y="411" width="1" height="8" fill="#c0c0c0"/>
<rect x="367" y="411" width="1" height="7" fill="#c0c0c0"/>
<rect x="371" y="411" width="1" height="4" fill="#c0c0c0"/>
<rect x="379" y="410" width="1" height="2" fill="#c0c0c0"/>
<rect x="383" y="408" width="1" height="4" fill="#c0c0c0"/>
<rect x="387" y="408" width="1" height="4" fill="#c0c0c0"/>
<rect x="391" y="407" width="1" height="5" fill="#c0c0c0"/>
<rect x="395" y="407" width="1" height="5" fill="#c0c0c0"/>
<rect x="399" y="406" width="1" height="6" fill="#c0c0c0"/>
<rect x="403" y="405" width="1" height="7" fill="#c0c0c0"/>
<rect x="407" y="404" width="1" height="8" fill="#c0c0c0"/>
<rect x="411" y="403" width="1" height="9" fill="#c0c0c0"/>
<rect x="415" y="398" width="1" height="14" fill="#c0c0c0"/>
<rect x="419" y="396" width="1" height="16" fill="#c0c0c0"/>
<rect x="423" y="396" width="1" height="16" fill="#c0c0c0"/>
<rect x="427" y="395" width="1" height="17" fill="#c0c0c0"/>
<rect x="431" y="393" width="1" height="19" fill="#c0c0c0"/>
<rect x="435" y="392" width="1" height="20" fill="#c0c0c0"/>
<rect x="439" y="392" width="1" height="20" fill="#c0c0c0"/>
<rect x="443" y="385" width="1" height="27" fill="#c0c0c0"/>
<rect x="447" y="379" width="1" height="33" fill="#c0c0c0"/>
<rect x="451" y="374" width="1" height="38" fill="#c0c0c0"/>
<rect x="455" y="371" width="1" height="41" fill="#c0c0c0"/>
<rect x="459" y="370" width="1" height="42" fill="#c0c0c0"/>
<rect x="463" y="368" width="1" height="44" fill="#c0c0c0"/>
<rect x="467" y="367" width="1" height="45" fill="#c0c0c0"/>
<rect x="471" y="367" width="1" height="45" fill="#c0c0c0"/>
<rect x="475" y="367" width="1" height="45" fill="#c0c0c0"/>
<rect x="479" y="367" width="1" height="45" fill="#c0c0c0"/>
<rect x="483" y="369" width="1" height="43" fill="#c0c0c0"/>
<rect x="487" y="371" width="1" height="41" fill="#c0c0c0"/>
<rect x="491" y="373" width="1" height="39" fill="#c0c0c0"/>
<rect x="495" y="374" width="1" height="38" fill="#c0c0c0"/>
<rect x="499" y="377" width="1" height="35" fill="#c0c0c0"/>
<rect x="503" y="381" width="1" height="31" fill="#c0c0c0"/>
<rect x="507" y="384" width="1" height="28" fill="#c0c0c0"/>
<rect x="511" y="385" width="1" height="27" fill="#c0c0c0"/>
<rect x="515" y="389" width="1" height="23" fill="#c0c0c0"/>
<rect x="519" y="391" width="1" height="21" fill="#c0c0c0"/>
<rect x="523" y="392" width="1" height="20" fill="#c0c0c0"/>
<rect x="527" y="393" width="1" height="19" fill="#c0c0c0"/>
<rect x="531" y="393" width="1" height="19" fill="#c0c0c0"/>
<rect x="535" y="392" width="1" height="20" fill="#c0c0c0"/>
<rect x="539" y="388" width="1" height="24" fill="#c0c0c0"/>
<rect x="543" y="384" width="1" height="28" fill="#c0c0c0"/>
<rect x="547" y="380" width="1" height="32" fill="#c0c0c0"/>
<rect x="551" y="378" width="1" height="34" fill="#c0c0c0"/>
<rect x="555" y="376" width="1" height="36" fill="#c0c0c0"/>
<rect x="559" y="375" width="1" height="37" fill="#c0c0c0"/>
<rect x="563" y="375" width="1" height="37" fill="#c0c0c0"/>
<rect x="567" y="375" width="1" height="37" fill="#c0c0c0"/>
<rect x="571" y="376" width="1" height="36" fill="#c0c0c0"/>
<rect x="575" y="374" width="1" height="38" fill="#c0c0c0"/>
<rect x="579" y="375" width="1" height="37" fill="#c0c0c0"/>
<rect x="583" y="376" width="1" height="36" fill="#c0c0c0"/>
<rect x="587" y="378" width="1" height="34" fill="#c0c0c0"/>
<rect x="591" y="383" width="1" height="29" fill="#c0c0c0"/>
<rect x="595" y="387" width="1" height="25" fill="#c0c0c0"/>
<rect x="599" y="390" width="1" height="22" fill="#c0c0c0"/>
<rect x="603" y="393" width="1" height="19" fill="#c0c0c0"/>
<rect x="607" y="398" width="1" height="14" fill="#c0c0c0"/>
<rect x="611" y="403" width="1" height="9" fill="#c0c0c0"/>
<rect x="615" y="406" width="1" height="6" fill="#c0c0c0"/>
<rect x="619" y="409" width="1" height="3" fill="#c0c0c0"/>
<rect x="627" y="411" width="1" height="2" fill="#c0c0c0"/>
<rect x="631" y="411" width="1" height="2" fill="#c0c0c0"/>
<rect x="635" y="411" width="1" height="4" fill="#c0c0c0"/>
<rect x="639" y="411" width="1" height="5" fill="#c0c0c0"/>
<rect x="643" y="411" width="1" height="9" fill="#c0c0c0"/>
<rect x="647" y="411" width="1" height="8" fill="#c0c0c0"/>
<rect x="651" y="411" width="1" height="8" fill="#c0c0c0"/>
<rect x="655" y="411" width="1" height="7" fill="#c0c0c0"/>
<rect x="659" y="411" width="1" height="9" fill="#c0c0c0"/>
<rect x="663" y="411" width="1" height="8" fill="#c0c0c0"/>
<rect x="667" y="411" width="1" height="6" fill="#c0c0c0"/>
<rect x="671" y="411" width="1" height="5" fill="#c0c0c0"/>
<rect x="675" y="411" width="1" height="4" fill="#c0c0c0"/>
<rect x="679" y="411" width="1" height="1" fill="#c0c0c0"/>
</g>
<path clip-path="url(#cd)" d="M3.3 424.2 L10.0 420.8 L16.7 415.8 L22.5 411.7 L28.3 408.7 L34.2 407.5 L40.8 407.5 L46.7 408.3 L52.5 410.0 L58.3 412.5 L64.2 415.3 L70.0 418.7 L75.8 422.5 L82.5 425.8 L88.3 429.7 L94.2 432.5 L100.0 434.2 L106.7 436.2 L112.5 438.3 L118.3 440.3 L124.2 442.8 L130.8 445.2 L136.7 445.7 L142.5 446.2 L148.3 444.7 L154.2 441.7 L160.0 437.8 L165.8 434.7 L172.5 431.7 L178.3 428.7 L184.2 427.5 L190.8 427.5 L196.7 427.5 L202.5 428.3 L208.3 430.0 L214.2 432.2 L220.0 434.2 L225.8 435.8 L231.7 437.5 L238.3 437.2 L244.2 437.2 L250.0 436.5 L256.7 434.6 L262.5 431.7 L268.3 427.8 L274.2 424.2 L280.0 420.0 L285.8 415.3 L291.7 411.7 L298.3 408.3 L304.2 405.0 L310.0 402.2 L315.8 400.5 L322.5 398.3 L328.3 398.3 L334.2 399.2 L340.0 400.5 L345.8 402.5 L351.7 405.8 L358.3 410.0 L364.2 412.5 L370.0 414.7 L375.8 415.2 L382.5 415.1 L388.3 413.7 L394.2 411.3 L400.0 409.2 L405.8 406.7 L412.5 404.7 L418.3 403.3 L424.2 401.2 L430.0 399.5 L435.8 397.5 L442.5 394.2 L448.3 390.3 L454.2 386.2 L460.0 381.7 L465.8 377.2 L471.7 373.8 L478.3 369.7 L484.2 367.5 L490.0 368.0 L495.8 368.3 L502.5 370.8 L508.3 373.7 L514.2 376.7 L520.0 380.5 L526.7 383.8 L532.5 386.7 L538.3 389.2 L544.2 389.2 L550.0 387.2 L556.7 384.7 L562.5 381.7 L568.3 379.2 L574.2 376.7 L580.0 375.5 L586.7 375.5 L592.5 375.8 L598.3 378.0 L604.2 381.2 L610.0 385.3 L616.7 390.8 L622.5 396.0 L628.3 400.8 L634.2 405.0 L640.0 409.7 L646.7 413.7 L652.5 415.3 L658.3 417.2 L664.2 418.3 L670.8 419.2 L676.7 418.0" fill="none" stroke="#ff0000" stroke-width="1" stroke-dasharray="3 3" shape-rendering="crispEdges"/>
<g shape-rendering="crispEdges" fill="#fff">
<rect x="2" y="2" width="764" height="1"/>
<rect x="2" y="2" width="1" height="357"/>
<rect x="765" y="2" width="1" height="357"/>
<rect x="2" y="358" width="764" height="1"/>
<rect x="2" y="360" width="764" height="1"/>
<rect x="2" y="360" width="1" height="97"/>
<rect x="765" y="360" width="1" height="97"/>
<rect x="2" y="456" width="766" height="1"/>
<rect x="2" y="458" width="764" height="1"/>
<rect x="766" y="25" width="2" height="1"/>
<rect x="766" y="58" width="2" height="1"/>
<rect x="766" y="91" width="2" height="1"/>
<rect x="766" y="124" width="2" height="1"/>
<rect x="766" y="157" width="2" height="1"/>
<rect x="766" y="190" width="2" height="1"/>
<rect x="766" y="223" width="2" height="1"/>
<rect x="766" y="256" width="2" height="1"/>
<rect x="766" y="289" width="2" height="1"/>
<rect x="766" y="322" width="2" height="1"/>
<rect x="766" y="355" width="2" height="1"/>
<rect x="766" y="362" width="1" height="1"/>
<rect x="766" y="411" width="2" height="1"/>
</g>
<text transform="translate(771.3 28.7) scale(0.985 1)" font-size="9.3" fill="#fff" stroke="#fff" stroke-width="0.2" >1987.45</text>
<text transform="translate(771.3 61.7) scale(0.985 1)" font-size="9.3" fill="#fff" stroke="#fff" stroke-width="0.2" >1977.70</text>
<text transform="translate(771.3 94.7) scale(0.985 1)" font-size="9.3" fill="#fff" stroke="#fff" stroke-width="0.2" >1967.70</text>
<text transform="translate(771.3 127.7) scale(0.985 1)" font-size="9.3" fill="#fff" stroke="#fff" stroke-width="0.2" >1957.95</text>
<text transform="translate(771.3 160.7) scale(0.985 1)" font-size="9.3" fill="#fff" stroke="#fff" stroke-width="0.2" >1948.20</text>
<text transform="translate(771.3 193.7) scale(0.985 1)" font-size="9.3" fill="#fff" stroke="#fff" stroke-width="0.2" >1938.20</text>
<text transform="translate(771.3 226.7) scale(0.985 1)" font-size="9.3" fill="#fff" stroke="#fff" stroke-width="0.2" >1928.45</text>
<text transform="translate(771.3 259.7) scale(0.985 1)" font-size="9.3" fill="#fff" stroke="#fff" stroke-width="0.2" >1918.45</text>
<text transform="translate(771.3 292.7) scale(0.985 1)" font-size="9.3" fill="#fff" stroke="#fff" stroke-width="0.2" >1908.70</text>
<text transform="translate(771.3 325.7) scale(0.985 1)" font-size="9.3" fill="#fff" stroke="#fff" stroke-width="0.2" >1898.70</text>
<text transform="translate(771.3 358.7) scale(0.985 1)" font-size="9.3" fill="#fff" stroke="#fff" stroke-width="0.2" >1888.95</text>
<text transform="translate(769.5 371) scale(0.955 1)" font-size="9.3" fill="#fff" stroke="#fff" stroke-width="0.2" >10.818</text>
<text transform="translate(769.3 415) scale(0.975 1)" font-size="9.3" fill="#fff" stroke="#fff" stroke-width="0.2" >0.00</text>
<text transform="translate(768.8 453) scale(0.945 1)" font-size="9.3" fill="#fff" stroke="#fff" stroke-width="0.2" >-9.787</text>
<rect x="767" y="76" width="41" height="11" fill="#fff" shape-rendering="crispEdges"/>
<text transform="translate(771.5 85) scale(0.985 1)" font-size="9.3" fill="#000" stroke="#000" stroke-width="0.2" >1970.84</text>
<path d="M6 9h7v1h-1v1h-1v1h-1v1h-1v-1h-1v-1h-1v-1h-1z" fill="#fff" shape-rendering="crispEdges"/>
<text transform="translate(17.5 13.8) scale(1 1)" font-size="9.3" fill="#fff" stroke="#fff" stroke-width="0.2" textLength="177" lengthAdjust="spacingAndGlyphs">LLG,H4&#160; 1964.46 1971.16 1964.22 1970.84</text>
<text transform="translate(7.5 372.8) scale(1 1)" font-size="9.3" fill="#fff" stroke="#fff" stroke-width="0.2" textLength="123.5" lengthAdjust="spacingAndGlyphs">MACD(12,26,9) -0.191 -1.425</text>
<g>
<polygon points="710.2,437.6 722.6,425.20000000000005 735.0,437.6 722.6,450.0" fill="#000"/>
<polygon points="710.2,437.6 722.6,425.2 722.6,429.0 714.0,437.6" fill="#a4a4a4"/>
<polygon points="735.0,437.6 722.6,425.2 722.6,429.0 731.2,437.6" fill="#6e6e6e"/>
<polygon points="735.0,437.6 722.6,450.0 722.6,446.2 731.2,437.6" fill="#8c7216"/>
<polygon points="710.2,437.6 722.6,450.0 722.6,446.2 714.0,437.6" fill="#d9c222"/>
<polygon points="714.0,437.6 722.6,429.0 722.6,430.2 715.2,437.6" fill="#f2f2f2"/>
<polygon points="731.2,437.6 722.6,429.0 722.6,430.6 729.6,437.6" fill="#e8e8e8"/>
<polygon points="715.2,437.6 722.6,430.2 722.6,432.0 717.0,437.6" fill="#3a3a3a"/>
<polygon points="729.6,437.6 722.6,430.6 722.6,432.0 728.2,437.6" fill="#2a2a2a"/>
<polygon points="731.2,437.6 722.6,446.2 722.6,443.2 728.2,437.6" fill="#5e4a12"/>
<polygon points="714.0,437.6 722.6,446.2 722.6,443.2 717.0,437.6" fill="#7a6416"/>
<polygon points="719.3000000000001,437.6 722.6,434.3 725.9,437.6 722.6,440.90000000000003" fill="none" stroke="#7fb822" stroke-width="1.4"/>
</g>
<text x="741" y="436.2" font-size="10.6" font-weight="bold" fill="#fff" stroke="#fff" stroke-width="0.35" textLength="58" lengthAdjust="spacingAndGlyphs">SiNO SOUND</text>
<text x="741" y="445.3" font-size="8" font-weight="900" fill="#ffffff" stroke="#fff" stroke-width="0.2" textLength="58" lengthAdjust="spacing">漢聲集團</text>
</svg>
</body></html>
